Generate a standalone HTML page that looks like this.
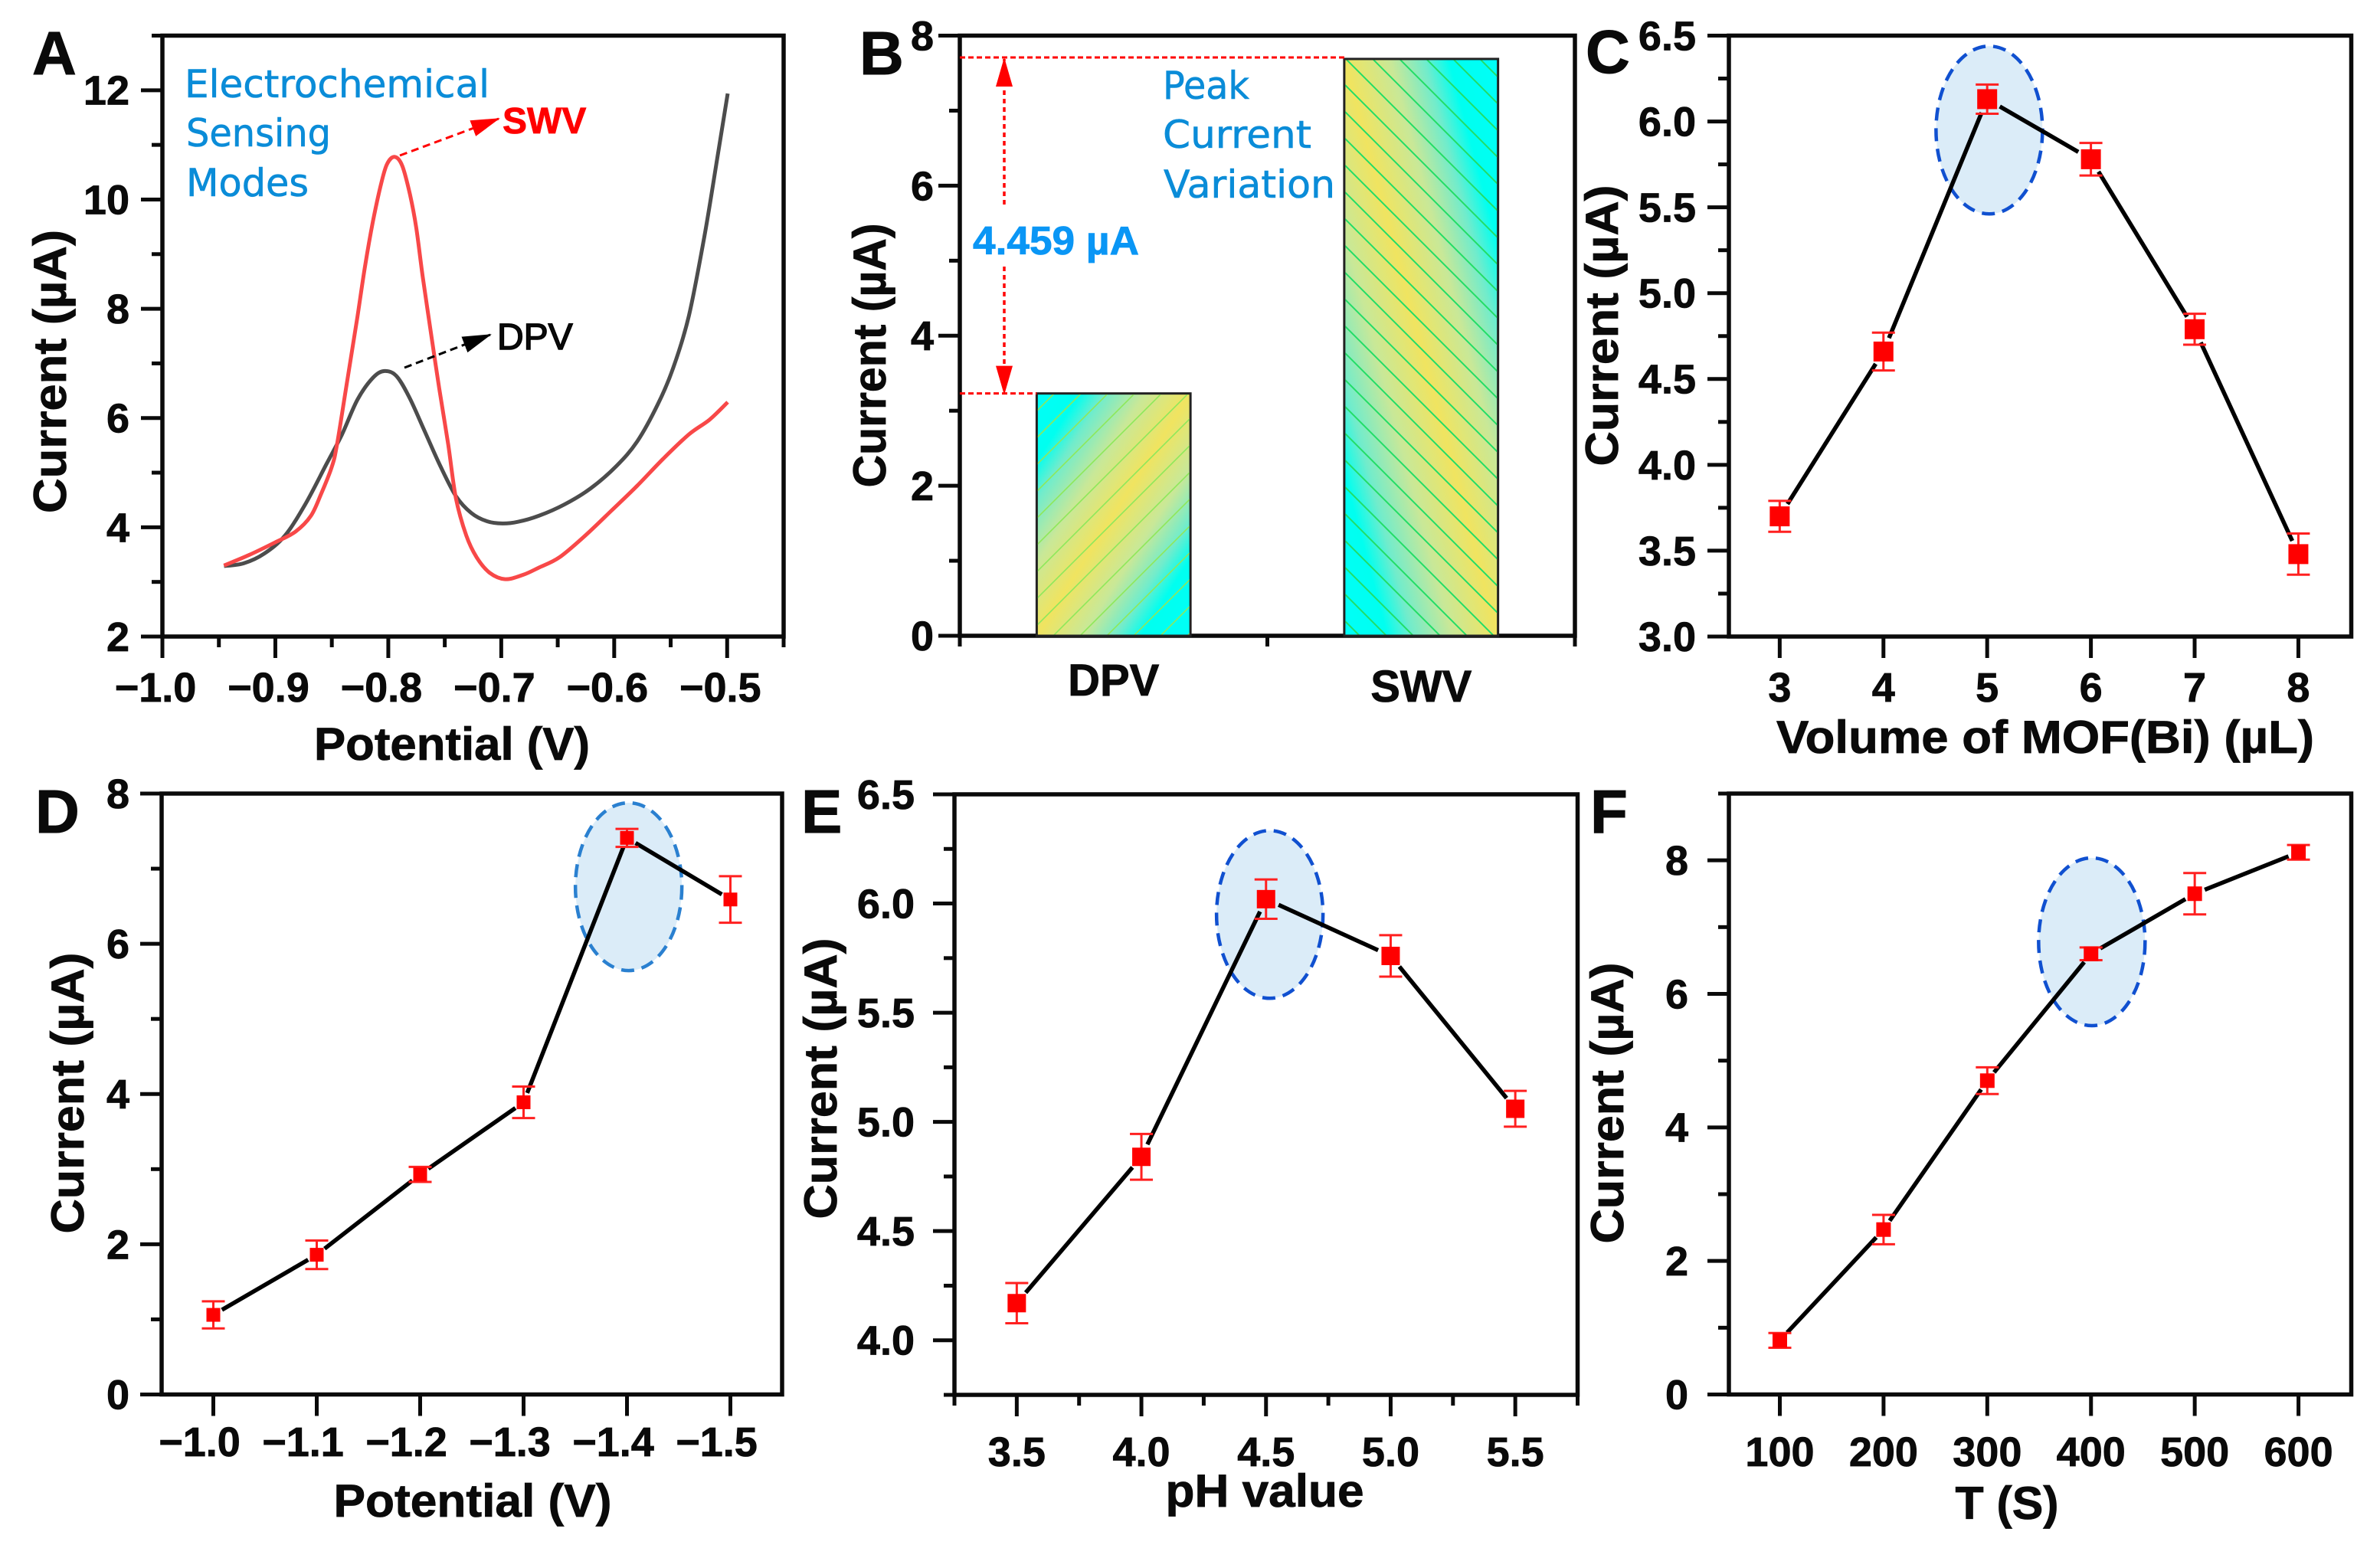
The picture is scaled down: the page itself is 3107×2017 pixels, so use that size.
<!DOCTYPE html>
<html lang="en">
<head>
<meta charset="utf-8">
<title>Electrochemical sensing optimisation panels</title>
<style>
html,body{margin:0;padding:0;background:#fff;width:3107px;height:2017px;overflow:hidden}
svg{display:block;position:absolute;left:0;top:0}
text{font-family:"Liberation Sans",Arial,sans-serif;fill:#0a0a0a}
</style>
</head>
<body>
<svg id="figure" xmlns="http://www.w3.org/2000/svg" width="3107" height="2017" viewBox="0 0 3107 2017">
  <defs>
    <linearGradient id="grad-dpv" x1="0" y1="0" x2="1" y2="1">
      <stop offset="0" stop-color="#00fff8"/>
      <stop offset="0.14" stop-color="#00fff0"/>
      <stop offset="0.22" stop-color="#70eccc"/>
      <stop offset="0.35" stop-color="#c8e898"/>
      <stop offset="0.5" stop-color="#f0e460"/>
      <stop offset="0.65" stop-color="#c8e898"/>
      <stop offset="0.76" stop-color="#70eccc"/>
      <stop offset="0.84" stop-color="#00fff0"/>
      <stop offset="1" stop-color="#00fff8"/>
    </linearGradient>
    <linearGradient id="grad-swv" x1="0" y1="1" x2="1" y2="0">
      <stop offset="0" stop-color="#00fff8"/>
      <stop offset="0.14" stop-color="#00fff0"/>
      <stop offset="0.22" stop-color="#70eccc"/>
      <stop offset="0.35" stop-color="#c8e898"/>
      <stop offset="0.5" stop-color="#f0e460"/>
      <stop offset="0.65" stop-color="#c8e898"/>
      <stop offset="0.76" stop-color="#70eccc"/>
      <stop offset="0.84" stop-color="#00fff0"/>
      <stop offset="1" stop-color="#00fff8"/>
    </linearGradient>
    <pattern id="hatch-dpv" patternUnits="userSpaceOnUse" width="35" height="35">
      <path d="M-5 5L5 -5M0 35L35 0M30 40L40 30" stroke="#8ee85a" stroke-width="1.6" fill="none"/>
    </pattern>
    <pattern id="hatch-swv" patternUnits="userSpaceOnUse" width="35" height="35">
      <path d="M-5 30L5 40M0 0L35 35M30 -5L40 5" stroke="#22dd66" stroke-width="2" fill="none"/>
    </pattern>
    <marker id="arrow-red" markerUnits="userSpaceOnUse" markerWidth="38" markerHeight="22" refX="36" refY="11" orient="auto">
      <path d="M0 0L38 11L0 22Z" fill="#ff0000"/>
    </marker>
    <marker id="arrow-black" markerUnits="userSpaceOnUse" markerWidth="38" markerHeight="22" refX="36" refY="11" orient="auto">
      <path d="M0 0L38 11L0 22Z" fill="#000"/>
    </marker>
  </defs>
</svg>
<script>
// ---- Panel A data ----
const aDpvX = [-0.9455,-0.928,-0.9097,-0.8914,-0.873,-0.8547,-0.841,-0.8272,-0.8135,-0.8034,-0.7929,-0.7814,-0.7676,-0.7539,-0.7401,-0.7264,-0.7126,-0.6989,-0.6852,-0.6668,-0.6439,-0.621,-0.5981,-0.5797,-0.5614,-0.5477,-0.5339,-0.5202,-0.5087,-0.4995];
const aDpvY = [3.29,3.34,3.52,3.85,4.44,5.16,5.70,6.34,6.74,6.86,6.77,6.38,5.75,5.12,4.57,4.26,4.11,4.07,4.10,4.21,4.42,4.71,5.12,5.57,6.25,6.92,7.87,9.32,10.76,11.94];
const aSwvX = [-0.9455,-0.9235,-0.9005,-0.8822,-0.8685,-0.8593,-0.8501,-0.8454,-0.8363,-0.8273,-0.8205,-0.8137,-0.8069,-0.8013,-0.7945,-0.7877,-0.7809,-0.7753,-0.7696,-0.7617,-0.755,-0.747,-0.7401,-0.731,-0.7218,-0.7104,-0.6966,-0.6806,-0.6668,-0.6485,-0.6256,-0.6027,-0.5797,-0.5568,-0.5339,-0.5156,-0.4995];
const aSwvY = [3.30,3.49,3.72,3.92,4.21,4.62,5.10,5.52,6.69,7.86,8.79,9.59,10.24,10.64,10.78,10.62,10.10,9.49,8.60,7.48,6.55,5.52,4.53,3.85,3.45,3.17,3.05,3.13,3.26,3.45,3.85,4.30,4.76,5.25,5.70,5.97,6.29];
const aXTicks = [-1.0,-0.9,-0.8,-0.7,-0.6,-0.5];
const aXLabels = ['−1.0','−0.9','−0.8','−0.7','−0.6','−0.5'];
const aXMinor = [-0.95,-0.85,-0.75,-0.65,-0.55,-0.45];
const aYTicks = [2,4,6,8,10,12];
const aYLabels = ['2','4','6','8','10','12'];
const aYMinor = [3,5,7,9,11,13];

// ---- Panel B data ----
const bCategories = ['DPV','SWV'];
const bValues = [3.23,7.689];
const bYTicks = [0,2,4,6,8];
const bYLabels = ['0','2','4','6','8'];
const bYMinor = [1,3,5,7];
const bXMinor = [0.5,1.5,2.5];

// ---- Panel C data ----
const cX = [3,4,5,6,7,8];
const cY = [3.70,4.66,6.13,5.78,4.79,3.48];
const cErr = [0.09,0.11,0.085,0.095,0.09,0.12];
const cXLabels = ['3','4','5','6','7','8'];
const cYTicks = [3,3.5,4,4.5,5,5.5,6,6.5];
const cYLabels = ['3.0','3.5','4.0','4.5','5.0','5.5','6.0','6.5'];
const cYMinor = [3.25,3.75,4.25,4.75,5.25,5.75,6.25];

// ---- Panel D data ----
const dX = [-1.0,-1.1,-1.2,-1.3,-1.4,-1.5];
const dY = [1.06,1.86,2.93,3.89,7.41,6.59];
const dErr = [0.18,0.19,0.10,0.21,0.12,0.31];
const dXLabels = ['−1.0','−1.1','−1.2','−1.3','−1.4','−1.5'];
const dYTicks = [0,2,4,6,8];
const dYLabels = ['0','2','4','6','8'];
const dYMinor = [1,3,5,7];

// ---- Panel E data ----
const eX = [3.5,4.0,4.5,5.0,5.5];
const eY = [4.17,4.84,6.02,5.76,5.06];
const eErr = [0.092,0.105,0.09,0.095,0.082];
const eXLabels = ['3.5','4.0','4.5','5.0','5.5'];
const eXMinor = [3.25,3.75,4.25,4.75,5.25,5.75];
const eYTicks = [4,4.5,5,5.5,6,6.5];
const eYLabels = ['4.0','4.5','5.0','5.5','6.0','6.5'];
const eYMinor = [3.75,4.25,4.75,5.25,5.75,6.25];

// ---- Panel F data ----
const fX = [100,200,300,400,500,600];
const fY = [0.81,2.47,4.70,6.60,7.50,8.12];
const fErr = [0.11,0.22,0.20,0.095,0.31,0.11];
const fXLabels = ['100','200','300','400','500','600'];
const fYTicks = [0,2,4,6,8];
const fYLabels = ['0','2','4','6','8'];
const fYMinor = [1,3,5,7,9];

const NS = 'http://www.w3.org/2000/svg';
const root = document.getElementById('figure');

function mk(tag, attrs, parent) {
  const node = document.createElementNS(NS, tag);
  for (const k in attrs) node.setAttribute(k, attrs[k]);
  parent.appendChild(node);
  return node;
}
function linear(d0, d1, r0, r1) {
  return function (v) { return r0 + (v - d0) * (r1 - r0) / (d1 - d0); };
}
function smoothPath(xs, ys, sx, sy) {
  const p = xs.map(function (v, i) { return [sx(v), sy(ys[i])]; });
  let d = 'M' + p[0][0].toFixed(1) + ' ' + p[0][1].toFixed(1);
  for (let i = 0; i < p.length - 1; i++) {
    const a = p[Math.max(i - 1, 0)], b = p[i], c = p[i + 1], e = p[Math.min(i + 2, p.length - 1)];
    const c1x = b[0] + (c[0] - a[0]) / 6, c1y = b[1] + (c[1] - a[1]) / 6;
    const c2x = c[0] - (e[0] - b[0]) / 6, c2y = c[1] - (e[1] - b[1]) / 6;
    d += 'C' + c1x.toFixed(1) + ' ' + c1y.toFixed(1) + ' ' + c2x.toFixed(1) + ' ' + c2y.toFixed(1) + ' ' + c[0].toFixed(1) + ' ' + c[1].toFixed(1);
  }
  return d;
}

function drawPanel(p) {
  const g = mk('g', {}, root);
  
  
  const sx = linear(p.xDomain[0], p.xDomain[1], p.left, p.right);
  const sy = linear(p.yDomain[0], p.yDomain[1], p.bottom, p.top);

  const frame = mk('rect', {x: p.left, y: p.top, width: p.right - p.left, height: p.bottom - p.top, fill: 'none', stroke: '#0a0a0a', 'stroke-width': 5.5}, g);
  
  

  p.xTicks.forEach(function (v, i) {
    const t = mk('line', {x1: sx(v), x2: sx(v), y1: p.bottom, y2: p.bottom + 28, stroke: '#0a0a0a', 'stroke-width': 5}, g);
    
    
    const l = mk('text', {x: sx(v) + (p.xLabelShift || 0), y: p.xLabelY, 'text-anchor': 'middle', 'font-size': p.tickFont, 'font-weight': 700, stroke: '#0a0a0a', 'stroke-width': 0.8}, g);
    l.textContent = p.xLabels[i];
    
    
  });
  (p.xMinor || []).forEach(function (v) {
    const t = mk('line', {x1: sx(v), x2: sx(v), y1: p.bottom, y2: p.bottom + 14, stroke: '#0a0a0a', 'stroke-width': 5}, g);
    
    
  });
  p.yTicks.forEach(function (v, i) {
    const t = mk('line', {x1: p.left - 28, x2: p.left, y1: sy(v), y2: sy(v), stroke: '#0a0a0a', 'stroke-width': 5}, g);
    
    
    const l = mk('text', {x: p.yLabelX, y: sy(v) + p.tickFont * 0.35, 'text-anchor': 'end', 'font-size': p.tickFont, 'font-weight': 700, stroke: '#0a0a0a', 'stroke-width': 0.8}, g);
    l.textContent = p.yLabels[i];
    
    
  });
  (p.yMinor || []).forEach(function (v) {
    const t = mk('line', {x1: p.left - 14, x2: p.left, y1: sy(v), y2: sy(v), stroke: '#0a0a0a', 'stroke-width': 5}, g);
    
    
  });

  if (p.xTitle) {
    const xt = mk('text', {x: p.xTitle.x, y: p.xTitle.y, 'text-anchor': 'middle', 'font-size': 60, 'font-weight': 700, textLength: p.xTitle.len, lengthAdjust: 'spacingAndGlyphs', stroke: '#0a0a0a', 'stroke-width': 0.8}, g);
    xt.textContent = p.xTitle.text;
    
    
  }
  const yt = mk('text', {x: 0, y: 0, transform: 'translate(' + p.yTitle.x + ' ' + p.yTitle.y + ') rotate(-90)', 'text-anchor': 'middle', 'font-size': 60, 'font-weight': 700, textLength: p.yTitle.len, lengthAdjust: 'spacingAndGlyphs', stroke: '#0a0a0a', 'stroke-width': 0.8}, g);
  yt.textContent = 'Current (µA)';
  
  

  const letter = mk('text', {x: p.letter.x, y: p.letter.y, 'font-size': 80, 'font-weight': 700, stroke: '#0a0a0a', 'stroke-width': 1}, g);
  letter.textContent = p.id.toUpperCase();
  
  

  return {g: g, sx: sx, sy: sy};
}

function drawSeries(ctx, p, xs, ys, errs) {
  const g = ctx.g, sx = ctx.sx, sy = ctx.sy;
  const el = mk('ellipse', {cx: sx(p.highlight.x), cy: sy(p.highlight.y), rx: 69.5, ry: 109.5, fill: '#dbecf8', stroke: p.highlight.color, 'stroke-width': 4.5, 'stroke-dasharray': '17 10'}, g);
  
  

  for (let i = 0; i < xs.length - 1; i++) {
    const x1 = sx(xs[i]), y1 = sy(ys[i]), x2 = sx(xs[i + 1]), y2 = sy(ys[i + 1]);
    const len = Math.hypot(x2 - x1, y2 - y1);
    const ux = (x2 - x1) / len, uy = (y2 - y1) / len;
    const seg = mk('line', {x1: x1 + ux * p.gap, y1: y1 + uy * p.gap, x2: x2 - ux * p.gap, y2: y2 - uy * p.gap, stroke: '#000', 'stroke-width': 5.5}, g);
    
    
  }
  xs.forEach(function (v, i) {
    const cx = sx(v), cy = sy(ys[i]), top = sy(ys[i] + errs[i]), bot = sy(ys[i] - errs[i]);
    const eb = mk('path', {d: 'M' + cx + ' ' + top + 'V' + bot + 'M' + (cx - 15) + ' ' + top + 'H' + (cx + 15) + 'M' + (cx - 15) + ' ' + bot + 'H' + (cx + 15), stroke: '#ff2020', 'stroke-width': 3, fill: 'none'}, g);
    
    
    const m = mk('rect', {x: cx - p.marker / 2, y: cy - p.marker / 2, width: p.marker, height: p.marker, fill: '#ff0000'}, g);
    
    
  });
}

function blueNote(parent, str, x, y, len, size, name) {
  const t = mk('text', {x: x, y: y, 'font-size': size, textLength: len, lengthAdjust: 'spacingAndGlyphs', stroke: '#0a8cd8', 'stroke-width': 0.6, style: 'font-family:"DejaVu Sans",sans-serif;fill:#0a8cd8'}, parent);
  t.textContent = str;
  
  
  return t;
}

// ---------- Panel A ----------
const pa = {id: 'a', left: 212, right: 1023, top: 46.5, bottom: 831, xDomain: [-1.0, -0.45], yDomain: [2, 13],
  xTicks: aXTicks, xLabels: aXLabels, xMinor: aXMinor, yTicks: aYTicks, yLabels: aYLabels, yMinor: aYMinor,
  tickFont: 54, xLabelY: 916, xLabelShift: -9, yLabelX: 169,
  xTitle: {text: 'Potential (V)', x: 590, y: 992, len: 360}, yTitle: {x: 86, y: 485, len: 370}, letter: {x: 42, y: 97}};
const ca = drawPanel(pa);
const dpvCurve = mk('path', {d: smoothPath(aDpvX, aDpvY, ca.sx, ca.sy), fill: 'none', stroke: '#4c4c4c', 'stroke-width': 5}, ca.g);


const swvCurve = mk('path', {d: smoothPath(aSwvX, aSwvY, ca.sx, ca.sy), fill: 'none', stroke: '#f84848', 'stroke-width': 5}, ca.g);


blueNote(ca.g, 'Electrochemical', 241, 127, 398, 50, 'annotation-electrochemical');
blueNote(ca.g, 'Sensing', 243, 191, 189, 50, 'annotation-sensing');
blueNote(ca.g, 'Modes', 243, 256, 160, 50, 'annotation-modes');
const swvArrow = mk('line', {x1: 522, y1: 203, x2: 651, y2: 155, stroke: '#ff0000', 'stroke-width': 3, 'stroke-dasharray': '10 6', 'marker-end': 'url(#arrow-red)'}, ca.g);


const dpvArrow = mk('line', {x1: 528, y1: 480, x2: 640, y2: 437, stroke: '#000', 'stroke-width': 3, 'stroke-dasharray': '10 6', 'marker-end': 'url(#arrow-black)'}, ca.g);


const swvLabel = mk('text', {x: 656, y: 174, 'font-size': 48, 'font-weight': 700, stroke: '#ff0000', 'stroke-width': 0.8, style: 'fill:#ff0000'}, ca.g);
swvLabel.textContent = 'SWV';


const dpvLabel = mk('text', {x: 649, y: 456, 'font-size': 48, stroke: '#000', 'stroke-width': 1.5}, ca.g);
dpvLabel.textContent = 'DPV';



// ---------- Panel B ----------
const pb = {id: 'b', left: 1253, right: 2056, top: 46.5, bottom: 830, xDomain: [0.5, 2.5], yDomain: [0, 8],
  xTicks: [], xLabels: [], xMinor: bXMinor, yTicks: bYTicks, yLabels: bYLabels, yMinor: bYMinor,
  tickFont: 54, yLabelX: 1219,
  yTitle: {x: 1156, y: 464, len: 345}, letter: {x: 1122, y: 97}};
const cb = drawPanel(pb);
const barFills = ['grad-dpv', 'grad-swv'];
const barHatches = ['hatch-dpv', 'hatch-swv'];
const catBaselines = [908, 916];
bCategories.forEach(function (cat, i) {
  const x0 = cb.sx(i + 1 - 0.25), x1 = cb.sx(i + 1 + 0.25), yTop = cb.sy(bValues[i]), yBase = cb.sy(0);
  const bar = mk('rect', {x: x0, y: yTop, width: x1 - x0, height: yBase - yTop, fill: 'url(#' + barFills[i] + ')', stroke: '#222', 'stroke-width': 3}, cb.g);
  
  
  const hatch = mk('rect', {x: x0 + 1.5, y: yTop + 1.5, width: x1 - x0 - 3, height: yBase - yTop - 3, fill: 'url(#' + barHatches[i] + ')', stroke: 'none'}, cb.g);
  
  
  const lab = mk('text', {x: cb.sx(i + 1), y: catBaselines[i], 'text-anchor': 'middle', 'font-size': 58, 'font-weight': 700, stroke: '#0a0a0a', 'stroke-width': 0.8}, cb.g);
  lab.textContent = cat;
  
  
});
const yHigh = cb.sy(bValues[1]), yLow = cb.sy(bValues[0]);
const guideTop = mk('line', {x1: pb.left, x2: cb.sx(1.75), y1: yHigh - 2, y2: yHigh - 2, stroke: '#ff0000', 'stroke-width': 3, 'stroke-dasharray': '7 4'}, cb.g);


const guideLow = mk('line', {x1: pb.left, x2: cb.sx(0.75), y1: yLow, y2: yLow, stroke: '#ff0000', 'stroke-width': 3, 'stroke-dasharray': '7 4'}, cb.g);


const arrowUp = mk('line', {x1: 1311, x2: 1311, y1: 267, y2: yHigh, stroke: '#ff0000', 'stroke-width': 3.5, 'stroke-dasharray': '6 5', 'marker-end': 'url(#arrow-red)'}, cb.g);


const arrowDown = mk('line', {x1: 1311, x2: 1311, y1: 348, y2: yLow, stroke: '#ff0000', 'stroke-width': 3.5, 'stroke-dasharray': '6 5', 'marker-end': 'url(#arrow-red)'}, cb.g);


const diffText = mk('text', {x: 1270, y: 332, 'font-size': 52, 'font-weight': 700, textLength: 217, lengthAdjust: 'spacingAndGlyphs', stroke: '#0a96f5', 'stroke-width': 0.8, style: 'fill:#0a96f5'}, cb.g);
diffText.textContent = '4.459 µA';


blueNote(cb.g, 'Peak', 1518, 129, 113, 50, 'annotation-peak');
blueNote(cb.g, 'Current', 1518, 193, 194, 50, 'annotation-current');
blueNote(cb.g, 'Variation', 1519, 258, 224, 50, 'annotation-variation');

// ---------- Panel C ----------
const pc = {id: 'c', left: 2257, right: 3069.5, top: 46.5, bottom: 831, xDomain: [2.51, 8.51], yDomain: [3, 6.5],
  xTicks: cX, xLabels: cXLabels, yTicks: cYTicks, yLabels: cYLabels, yMinor: cYMinor,
  tickFont: 54, xLabelY: 916, yLabelX: 2214,
  xTitle: {text: 'Volume of MOF(Bi) (µL)', x: 2670, y: 983, len: 702}, yTitle: {x: 2112, y: 425, len: 367}, letter: {x: 2070, y: 95},
  highlight: {x: 5.02, y: 5.95, color: '#1050d0'}, gap: 19, marker: 26};
drawSeries(drawPanel(pc), pc, cX, cY, cErr);

// ---------- Panel D ----------
const pd = {id: 'd', left: 211, right: 1021, top: 1036, bottom: 1820.5, xDomain: [-0.95, -1.55], yDomain: [0, 8],
  xTicks: dX, xLabels: dXLabels, yTicks: dYTicks, yLabels: dYLabels, yMinor: dYMinor,
  tickFont: 54, xLabelY: 1901, xLabelShift: -18, yLabelX: 169,
  xTitle: {text: 'Potential (V)', x: 617, y: 1980, len: 363}, yTitle: {x: 109, y: 1427, len: 367}, letter: {x: 46, y: 1087},
  highlight: {x: -1.4016, y: 6.76, color: '#2a80d0'}, gap: 13, marker: 18};
drawSeries(drawPanel(pd), pd, dX, dY, dErr);

// ---------- Panel E ----------
const pe = {id: 'e', left: 1246, right: 2059.5, top: 1037, bottom: 1821, xDomain: [3.25, 5.75], yDomain: [3.75, 6.5],
  xTicks: eX, xLabels: eXLabels, xMinor: eXMinor, yTicks: eYTicks, yLabels: eYLabels, yMinor: eYMinor,
  tickFont: 54, xLabelY: 1914, yLabelX: 1194,
  xTitle: {text: 'pH value', x: 1651, y: 1967, len: 259}, yTitle: {x: 1092, y: 1408, len: 367}, letter: {x: 1046, y: 1087},
  highlight: {x: 4.515, y: 5.95, color: '#1050d0'}, gap: 18, marker: 24};
drawSeries(drawPanel(pe), pe, eX, eY, eErr);

// ---------- Panel F ----------
const pf = {id: 'f', left: 2257, right: 3069.5, top: 1036, bottom: 1820.5, xDomain: [50.9, 650.9], yDomain: [0, 9],
  xTicks: fX, xLabels: fXLabels, yTicks: fYTicks, yLabels: fYLabels, yMinor: fYMinor,
  tickFont: 54, xLabelY: 1914, yLabelX: 2204,
  xTitle: {text: 'T (S)', x: 2620, y: 1983, len: 135}, yTitle: {x: 2119, y: 1440, len: 367}, letter: {x: 2076, y: 1087},
  highlight: {x: 400.8, y: 6.78, color: '#1050d0'}, gap: 14, marker: 19};
drawSeries(drawPanel(pf), pf, fX, fY, fErr);
</script>
</body>
</html>
